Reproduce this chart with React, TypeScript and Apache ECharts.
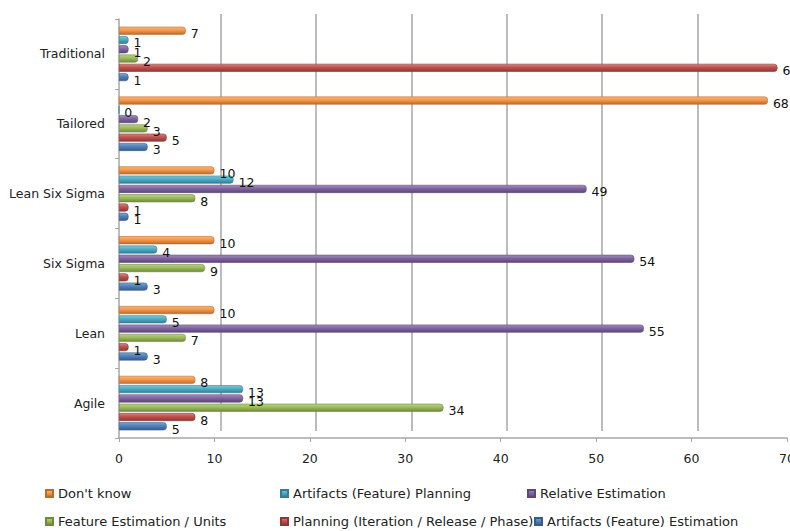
import React, { useEffect, useRef } from "react";
import * as echarts from "echarts";

const categories = ["Agile", "Lean", "Six Sigma", "Lean Six Sigma", "Tailored", "Traditional"];
const dontKnow = [8, 10, 10, 10, 68, 7];
const artifactsPlanning = [13, 5, 4, 12, 0, 1];
const relativeEstimation = [13, 55, 54, 49, 2, 1];
const featureEstimation = [34, 7, 9, 8, 3, 2];
const planningIRP = [8, 1, 1, 1, 5, 69];
const artifactsEstimation = [5, 3, 3, 1, 3, 1];
const xTicks = { min: 0, max: 70, interval: 10 };

const seriesDefs = [
  { name: "Don't know", data: dontKnow, base: "#F79646", light: "#FAB57C", dark: "#B66D31" },
  { name: "Artifacts (Feature) Planning", data: artifactsPlanning, base: "#4BACC6", light: "#82C6D8", dark: "#357D91" },
  { name: "Relative Estimation", data: relativeEstimation, base: "#8064A2", light: "#A48FBD", dark: "#5C4776" },
  { name: "Feature Estimation / Units", data: featureEstimation, base: "#9BBB59", light: "#BAD18C", dark: "#71893F" },
  { name: "Planning (Iteration / Release / Phase)", data: planningIRP, base: "#C0504D", light: "#D68482", dark: "#8C3836" },
  { name: "Artifacts (Feature) Estimation", data: artifactsEstimation, base: "#4F81BD", light: "#80A4D0", dark: "#385D8A" },
];

const legendPos = [
  { left: 45, top: 487 },
  { left: 280, top: 487 },
  { left: 527, top: 487 },
  { left: 45, top: 515 },
  { left: 280, top: 515 },
  { left: 534, top: 515 },
];

const FONT = "DejaVu Sans";

export default function App() {
  const ref = useRef<HTMLDivElement>(null);
  useEffect(() => {
    if (!ref.current) return;
    const chart = echarts.init(ref.current, null, { renderer: "svg" });
    const option: any = {
      animation: false,
      textStyle: { fontFamily: FONT },
      grid: [
        { left: 119, right: 3, top: 19, bottom: 93, outerBoundsMode: "none", containLabel: false },
        { left: 125, right: -3, top: 14, bottom: 100, outerBoundsMode: "none", containLabel: false },
      ],
      xAxis: [
        {
          gridIndex: 0,
          type: "value",
          ...xTicks,
          splitLine: { show: false },
          axisLine: { show: true, lineStyle: { color: "#a6a6a6", width: 1.5 } },
          axisTick: { show: true, length: 4, lineStyle: { color: "#a6a6a6" } },
          axisLabel: { color: "#222", fontSize: 12.5, fontFamily: FONT, margin: 14 },
        },
        {
          gridIndex: 1,
          type: "value",
          ...xTicks,
          splitLine: { show: true, showMinLine: false, lineStyle: { color: "#a6a6a6", width: 1.5 } },
          axisLine: { show: false },
          axisTick: { show: false },
          axisLabel: { show: false },
        },
      ],
      yAxis: [
        {
          gridIndex: 0,
          type: "category",
          data: categories,
          axisLine: { show: true, lineStyle: { color: "#a6a6a6", width: 1.5 } },
          axisTick: { show: true, length: 4, lineStyle: { color: "#a6a6a6" } },
          axisLabel: { color: "#222", fontSize: 12.5, fontFamily: FONT, margin: 14 },
        },
        {
          gridIndex: 1,
          type: "category",
          data: categories,
          show: false,
        },
      ],
      legend: seriesDefs.map((s, i) => ({
        data: [s.name],
        left: legendPos[i].left,
        top: legendPos[i].top,
        padding: 0,
        itemWidth: 7,
        itemHeight: 7,
        icon: "rect",
        itemGap: 4,
        textStyle: { fontSize: 13, color: "#222", fontFamily: FONT },
        selectedMode: false,
      })),
      series: seriesDefs.map((s) => ({
        name: s.name,
        type: "bar",
        xAxisIndex: 0,
        yAxisIndex: 0,
        data: s.data,
        barWidth: 8,
        barGap: "16%",
        color: s.base,
        itemStyle: {
          color: new echarts.graphic.LinearGradient(0, 0, 0, 1, [
            { offset: 0, color: s.light },
            { offset: 0.45, color: s.base },
            { offset: 1, color: s.dark },
          ]),
          borderColor: s.dark,
          borderWidth: 0.6,
          borderRadius: [0, 3, 3, 0],
        },
        label: {
          show: true,
          position: "right",
          distance: 5,
          offset: [0, 3],
          color: "#111",
          fontSize: 12.5,
          fontFamily: FONT,
        },
      })),
    };
    chart.setOption(option);
    return () => chart.dispose();
  }, []);
  return (
    <div
      ref={ref}
      style={{ position: "absolute", left: 0, top: 0, width: 790, height: 531 }}
    />
  );
}
